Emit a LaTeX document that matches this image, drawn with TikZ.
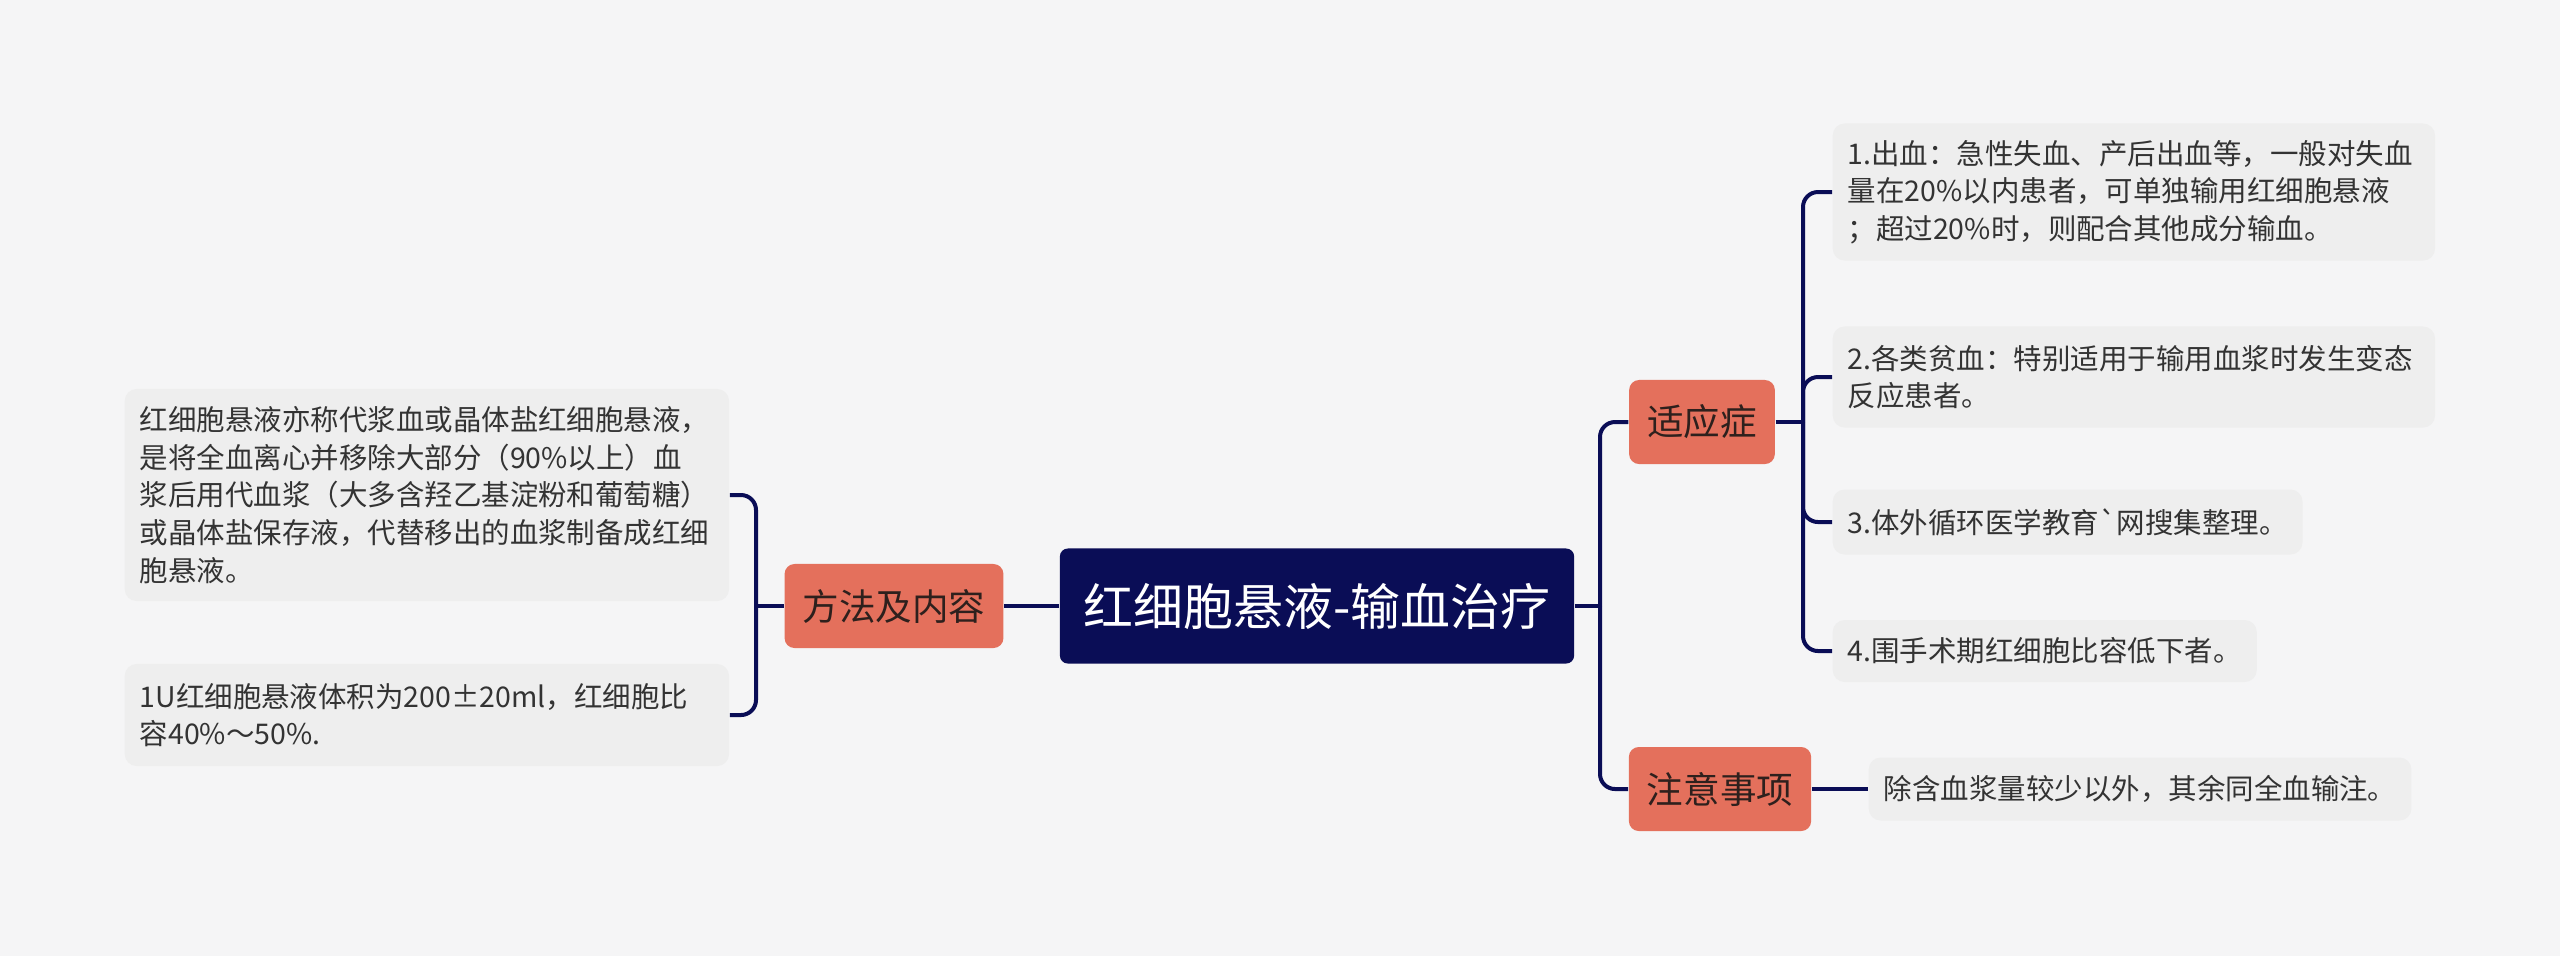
\documentclass[tikz,border=0pt]{standalone}
\usepackage{fontspec}
\setmainfont{Noto Sans CJK SC}[Ligatures=TeXOff]

\definecolor{navy}{HTML}{0A0D56}
\definecolor{salmon}{HTML}{E4705C}
\definecolor{leafgray}{HTML}{EEEEEE}
\definecolor{bggray}{HTML}{F5F5F6}
\definecolor{inkgray}{HTML}{333333}
\definecolor{topicink}{HTML}{2E201D}

\tikzset{
  root/.style={fill=navy, text=white, rounded corners=0.08cm,
    font=\fontsize{14.2pt}{17pt}\selectfont,
    minimum width=5.14cm, minimum height=1.15cm, inner sep=0pt},
  topic/.style={fill=salmon, text=topicink, rounded corners=0.1cm,
    font=\fontsize{10.4pt}{12pt}\selectfont,
    minimum height=0.84cm, inner xsep=0.18cm, inner ysep=0pt},
  leaf/.style={fill=leafgray, text=inkgray, rounded corners=0.12cm,
    font=\fontsize{8.1pt}{10.7pt}\selectfont, align=left,
    anchor=west, inner xsep=0.15cm, inner ysep=0pt},
  link/.style={draw=navy, line width=0.04cm, rounded corners=0.15cm},
}

\begin{document}
\begin{tikzpicture}[x=0.01cm, y=-0.01cm] % 1 单位 = 参考图 1 像素
  \fill[bggray] (0,0) rectangle (2560,956);
  \useasboundingbox (0,0) rectangle (2560,956);

  % 中心主题与分支
  \node[root] (root) at (1317,606) {红细胞悬液-输血治疗};
  \node[topic] (method) at (894,606) {方法及内容};
  \node[topic] (indic) at (1702,422) {适应症};
  \node[topic] (notice) at (1720,789) {注意事项};

  % 左边的内容
  \node[leaf, text width=5.74cm, minimum height=2.12cm] (m1) at (124,495)
    {红细胞悬液亦称代浆血或晶体盐红细胞悬液，\\
     是将全血离心并移除大部分（90\%以上）血\\
     浆后用代血浆（大多含羟乙基淀粉和葡萄糖）\\
     或晶体盐保存液，代替移出的血浆制备成红细\\
     胞悬液。};
  \node[leaf, text width=5.74cm, minimum height=1.02cm] (m2) at (124,715)
    {1U红细胞悬液体积为200±20ml，红细胞比\\
     容40\%～50\%.};

  % 右边的内容
  \node[leaf, text width=5.72cm, minimum height=1.37cm] (i1) at (1832,192)
    {1.出血：急性失血、产后出血等，一般对失血\\
     量在20\%以内患者，可单独输用红细胞悬液\\
     ；超过20\%时，则配合其他成分输血。};
  \node[leaf, text width=5.72cm, minimum height=1.01cm] (i2) at (1832,377)
    {2.各类贫血：特别适用于输用血浆时发生变态\\
     反应患者。};
  \node[leaf, minimum height=0.65cm] (i3) at (1832,522)
    {3.体外循环医学教育\symbol{96}网搜集整理。};
  \node[leaf, minimum height=0.62cm] (i4) at (1832,651)
    {4.围手术期红细胞比容低下者。};
  \node[leaf, minimum height=0.63cm] (n1) at (1868,789)
    {除含血浆量较少以外，其余同全血输注。};

  % 连线
  \coordinate (rj) at (1600,606);
  \coordinate (ij) at (1803,422);
  \coordinate (mj) at (756,606);
  \draw[link] (root) -- (rj);
  \draw[link] (rj) |- (indic);
  \draw[link] (rj) |- (notice);
  \draw[link] (indic) -- (ij);
  \foreach \leafname in {i1,i2,i3,i4} {
    \draw[link] (ij) |- (\leafname.west);
  }
  \draw[link] (notice) -- (n1);
  \draw[link] (root) -- (method);
  \draw[link] (method) -- (mj);
  \draw[link] (mj) |- (m1.east);
  \draw[link] (mj) |- (m2.east);
\end{tikzpicture}
\end{document}
